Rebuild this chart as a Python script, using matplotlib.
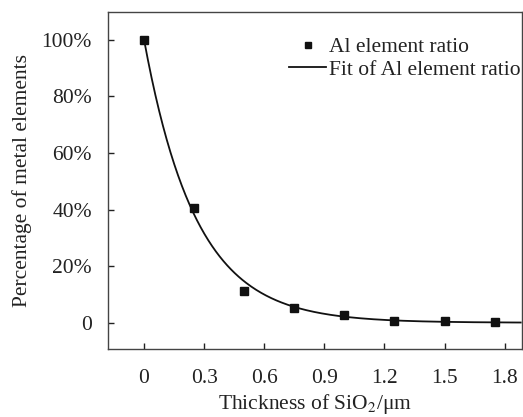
import numpy as np
import matplotlib
matplotlib.use("Agg")
import matplotlib.pyplot as plt

# ---- data ----
thickness = [0.0, 0.25, 0.5, 0.75, 1.0, 1.25, 1.5, 1.75]
al_ratio = [100.0, 40.6, 11.2, 5.2, 2.6, 0.6, 0.6, 0.35]

# exponential decay fit y = y0 + A*exp(-x/t)
fit_A = 100.0
fit_t = 0.26
fit_y0 = 0.0
fit_xmax = 1.88

x_ticks = [0, 0.3, 0.6, 0.9, 1.2, 1.5, 1.8]
x_tick_labels = ["0", "0.3", "0.6", "0.9", "1.2", "1.5", "1.8"]
y_ticks = [0, 20, 40, 60, 80, 100]
y_tick_labels = ["0", "20%", "40%", "60%", "80%", "100%"]

plt.rcParams["font.family"] = ["Liberation Serif", "DejaVu Serif"]
plt.rcParams["mathtext.fontset"] = "stix"
fs = 15.5
dark = "#222222"

fig = plt.figure(figsize=(5.23, 4.17), dpi=100)
ax = fig.add_axes([0.2065, 0.1623, 0.791, 0.8089])

x_fit = np.linspace(0, fit_xmax, 300)
y_fit = fit_y0 + fit_A * np.exp(-x_fit / fit_t)
ax.plot(x_fit, y_fit, color="#111111", lw=1.3, label="Fit of Al element ratio", zorder=2)
ax.plot(thickness, al_ratio, ls="none", marker="s", ms=6, color="#111111",
        label="Al element ratio", zorder=3)

ax.set_xlim(-0.18, 1.885)
ax.set_ylim(-9.4, 109.8)
ax.set_xticks(x_ticks)
ax.set_xticklabels(x_tick_labels)
ax.set_yticks(y_ticks)
ax.set_yticklabels(y_tick_labels)

ax.tick_params(axis="x", direction="in", length=4, width=1, pad=14,
               labelsize=fs, colors=dark, top=False)
ax.tick_params(axis="y", direction="in", length=4, width=1, pad=11.5,
               labelsize=fs, colors=dark, right=False)
for sp in ax.spines.values():
    sp.set_color("#444444")
    sp.set_linewidth(1)

ax.set_xlabel(r"Thickness of SiO$_2$/μm", fontsize=fs, color=dark, labelpad=3)
ax.set_ylabel("Percentage of metal elements", fontsize=fs, color=dark, labelpad=7)

handles, labels = ax.get_legend_handles_labels()
leg = ax.legend(handles[::-1], labels[::-1], loc="upper left",
                bbox_to_anchor=(289 / 523, 1 - 37 / 417), bbox_transform=fig.transFigure,
                frameon=False, fontsize=fs, handlelength=1.72, handletextpad=0.14,
                labelspacing=0.12, borderpad=0, borderaxespad=0, markerscale=0.8)
for t in leg.get_texts():
    t.set_color(dark)

fig.savefig("out.png", dpi=100)
